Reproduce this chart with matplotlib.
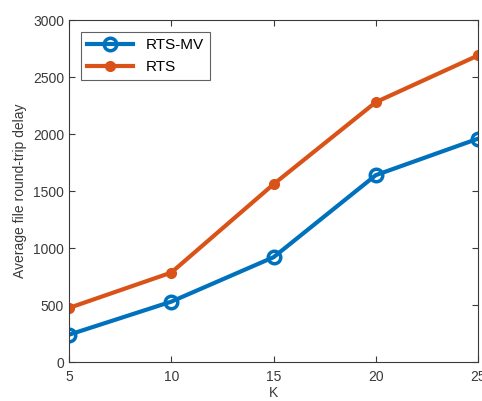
import matplotlib
matplotlib.use("Agg")
import matplotlib.pyplot as plt

plt.rcParams['font.family'] = ['Liberation Sans', 'DejaVu Sans']

K = [5, 10, 15, 20, 25]
rts_mv = [240, 530, 920, 1640, 1960]
rts = [475, 785, 1560, 2280, 2690]

txt = '#3a3a3a'

fig = plt.figure(figsize=(4.82, 4.01), dpi=100)
ax = fig.add_axes([0.143, 0.097, 0.849, 0.853])

ax.plot(K, rts_mv, '-o', color='#0072BD', lw=3, ms=9, mfc='none', mew=2.5, label='RTS-MV')
ax.plot(K, rts, '-o', color='#D95319', lw=3, ms=7, mfc='#D95319', label='RTS')

ax.set_xlim(5, 25)
ax.set_ylim(0, 3000)
ax.set_xticks(K)
ax.set_yticks(range(0, 3001, 500))
ax.set_xlabel('K', fontsize=10, color=txt, labelpad=1)
ax.set_ylabel('Average file round-trip delay', fontsize=10, color=txt)
ax.tick_params(direction='in', length=4, labelsize=10, colors=txt, top=True, right=True)
ax.tick_params(axis='x', pad=6)
for s in ax.spines.values():
    s.set_color(txt)
    s.set_linewidth(0.8)

leg = ax.legend(loc='upper left', fontsize=11, frameon=True, fancybox=False,
                edgecolor=txt, handlelength=3, borderaxespad=0.8)
leg.get_frame().set_linewidth(0.8)

fig.savefig('out.png', dpi=100)
